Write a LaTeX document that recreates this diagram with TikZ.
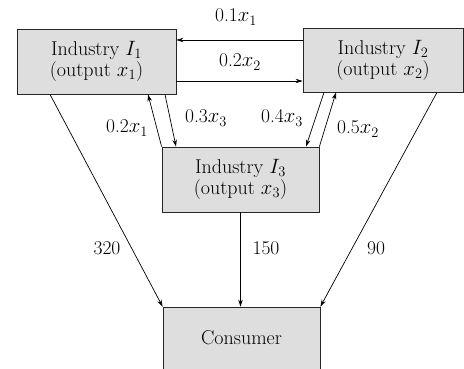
\documentclass[tikz,border=0pt]{standalone}
\usetikzlibrary{arrows.meta,calc}
\newcommand\vx[1]{$x_{#1}$}
\newcommand\vI[1]{$I_{#1}$}
\begin{document}
\begin{tikzpicture}[x=1pt,y=-1pt,
  box/.style={draw=black!85,line width=0.8pt,fill=black!13,align=center,
    font=\fontsize{20}{21}\selectfont,inner sep=0pt,anchor=center},
  lbl/.style={font=\fontsize{19.5}{22}\selectfont,inner sep=0pt,anchor=center},
  arr/.style={line width=0.7pt,-{Stealth[length=7pt,width=4.5pt]}}]
\clip (0,0) rectangle (464,368);
\useasboundingbox (0,0) rectangle (464,368);
\node[box,minimum width=159pt,minimum height=65pt] (I1) at (96.5,61.5) {Industry \vI{1}\\(output \vx{1})};
\node[box,minimum width=160pt,minimum height=64pt] (I2) at (383,60) {Industry \vI{2}\\(output \vx{2})};
\node[box,minimum width=157pt,minimum height=65pt] (I3) at (240.5,179.5) {Industry \vI{3}\\(output \vx{3})};
\node[box,minimum width=157pt,minimum height=80pt] (C) at (241.5,347) {};
\node[font=\fontsize{20}{21}\selectfont,anchor=center,inner sep=0pt] (Ct) at (241.5,338) {Consumer};
% arrows between I1 and I2
\draw[arr] ([yshift=20pt]I2.west) -- ([yshift=20pt]I2.west -| I1.east);
\draw[arr] ([yshift=-19.5pt]I1.east) -- ([yshift=-19.5pt]I1.east -| I2.west);
% I1 <-> I3
\draw[arr] ([xshift=68.5pt]I1.south) -- ([xshift=-64.5pt]I3.north);
\draw[arr] (I3.north west) -- ([xshift=51.5pt]I1.south);
% I2 <-> I3
\draw[arr] ([xshift=-59pt]I2.south) -- ([xshift=65.5pt]I3.north);
\draw[arr] (I3.north east) -- ([xshift=-47pt]I2.south);
% to consumer
\draw[arr] ([xshift=-46.5pt]I1.south) -- (C.north west);
\draw[arr] (I3.south) -- (I3.south |- C.north);
\draw[arr] ([xshift=54pt]I2.south) -- (C.north east);
% labels
\node[lbl] (l1) at (236,17) {0.1\vx{1}};
\node[lbl] (l2) at (240,62) {0.2\vx{2}};
\node[lbl] (l3) at (206,118) {0.3\vx{3}};
\node[lbl] (l4) at (127,128) {0.2\vx{1}};
\node[lbl] (l5) at (282,118) {0.4\vx{3}};
\node[lbl] (l6) at (358,129) {0.5\vx{2}};
\node[lbl] (l7) at (107,248) {320};
\node[lbl] (l8) at (266,248) {150};
\node[lbl] (l9) at (376,248) {90};
\end{tikzpicture}
\end{document}
